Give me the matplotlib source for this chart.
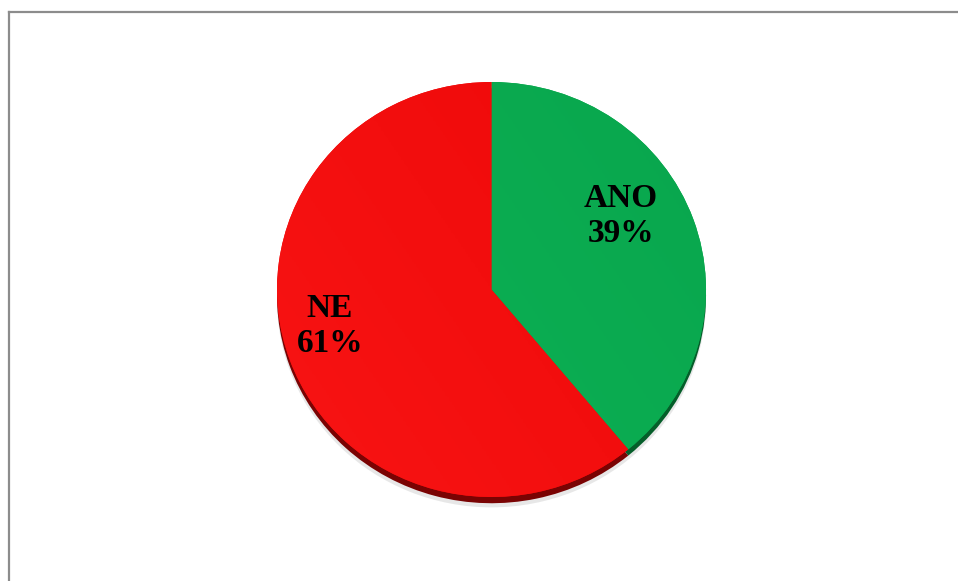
import matplotlib
matplotlib.use("Agg")
import matplotlib.pyplot as plt
import numpy as np
from matplotlib.colors import LinearSegmentedColormap
from matplotlib.lines import Line2D

# chart data
categories = ["ANO", "NE"]
percents = [39, 61]
face_colors = ["#09a64d", "#ee0808"]
light_colors = ["#0db356", "#f81414"]
side_colors = ["#055e2a", "#7a0303"]

# label placement (pixels in the figure)
label_px = [(621, 216), (330, 326)]

W, H = 958, 581
cx, cy = 491.5, 289.5   # pie centre in pixels
rx, ry = 214.5, 207.5   # pie radii in pixels

fig = plt.figure(figsize=(W / 100, H / 100), dpi=100)
fig.patch.set_facecolor("white")
ax = fig.add_axes([0, 0, 1, 1])

# shadow + side of the pie
ax.pie([1], radius=1.0, center=(0.0, -0.05), colors=["#d8d8d8"],
       wedgeprops=dict(linewidth=0, alpha=0.6), frame=True)
ax.pie(percents, startangle=90, counterclock=False, center=(0.0, -0.03),
       colors=side_colors, wedgeprops=dict(linewidth=0), frame=True)
wedges, _ = ax.pie(percents, startangle=90, counterclock=False,
                   colors=face_colors, wedgeprops=dict(linewidth=0), frame=True)

# soft gradient on each face
xx = np.linspace(0, 1, 256)
grad = np.tile(xx, (256, 1)) * 0.6 + np.tile(xx[::-1][:, None], (1, 256)) * 0.4
for w, lc, fc in zip(wedges, light_colors, face_colors):
    cmap = LinearSegmentedColormap.from_list("g", [lc, fc])
    im = ax.imshow(grad, extent=(-1, 1, -1, 1), cmap=cmap, aspect="auto",
                   origin="upper", zorder=w.get_zorder() + 0.1)
    im.set_clip_path(w)

ax.set_aspect("auto")
ax.set_xlim((0 - cx) / rx, (W - cx) / rx)
ax.set_ylim((cy - H) / ry, cy / ry)
ax.axis("off")

for name, pct, (px, py) in zip(categories, percents, label_px):
    ax.text((px - cx) / rx, (cy - py) / ry, f"{name}\n{pct}%",
            ha="center", va="center", fontsize=24, fontweight="bold",
            family=["Liberation Serif", "DejaVu Serif"], linespacing=1.2,
            zorder=10)

# chart area border (top and left only visible)
top = 1 - 11.5 / H
left = 8.5 / W
fig.add_artist(Line2D([left, 1], [top, top], color="#8c8c8c", lw=1.6))
fig.add_artist(Line2D([left, left], [0, top], color="#8c8c8c", lw=1.6))

fig.savefig("out.png", dpi=100)
